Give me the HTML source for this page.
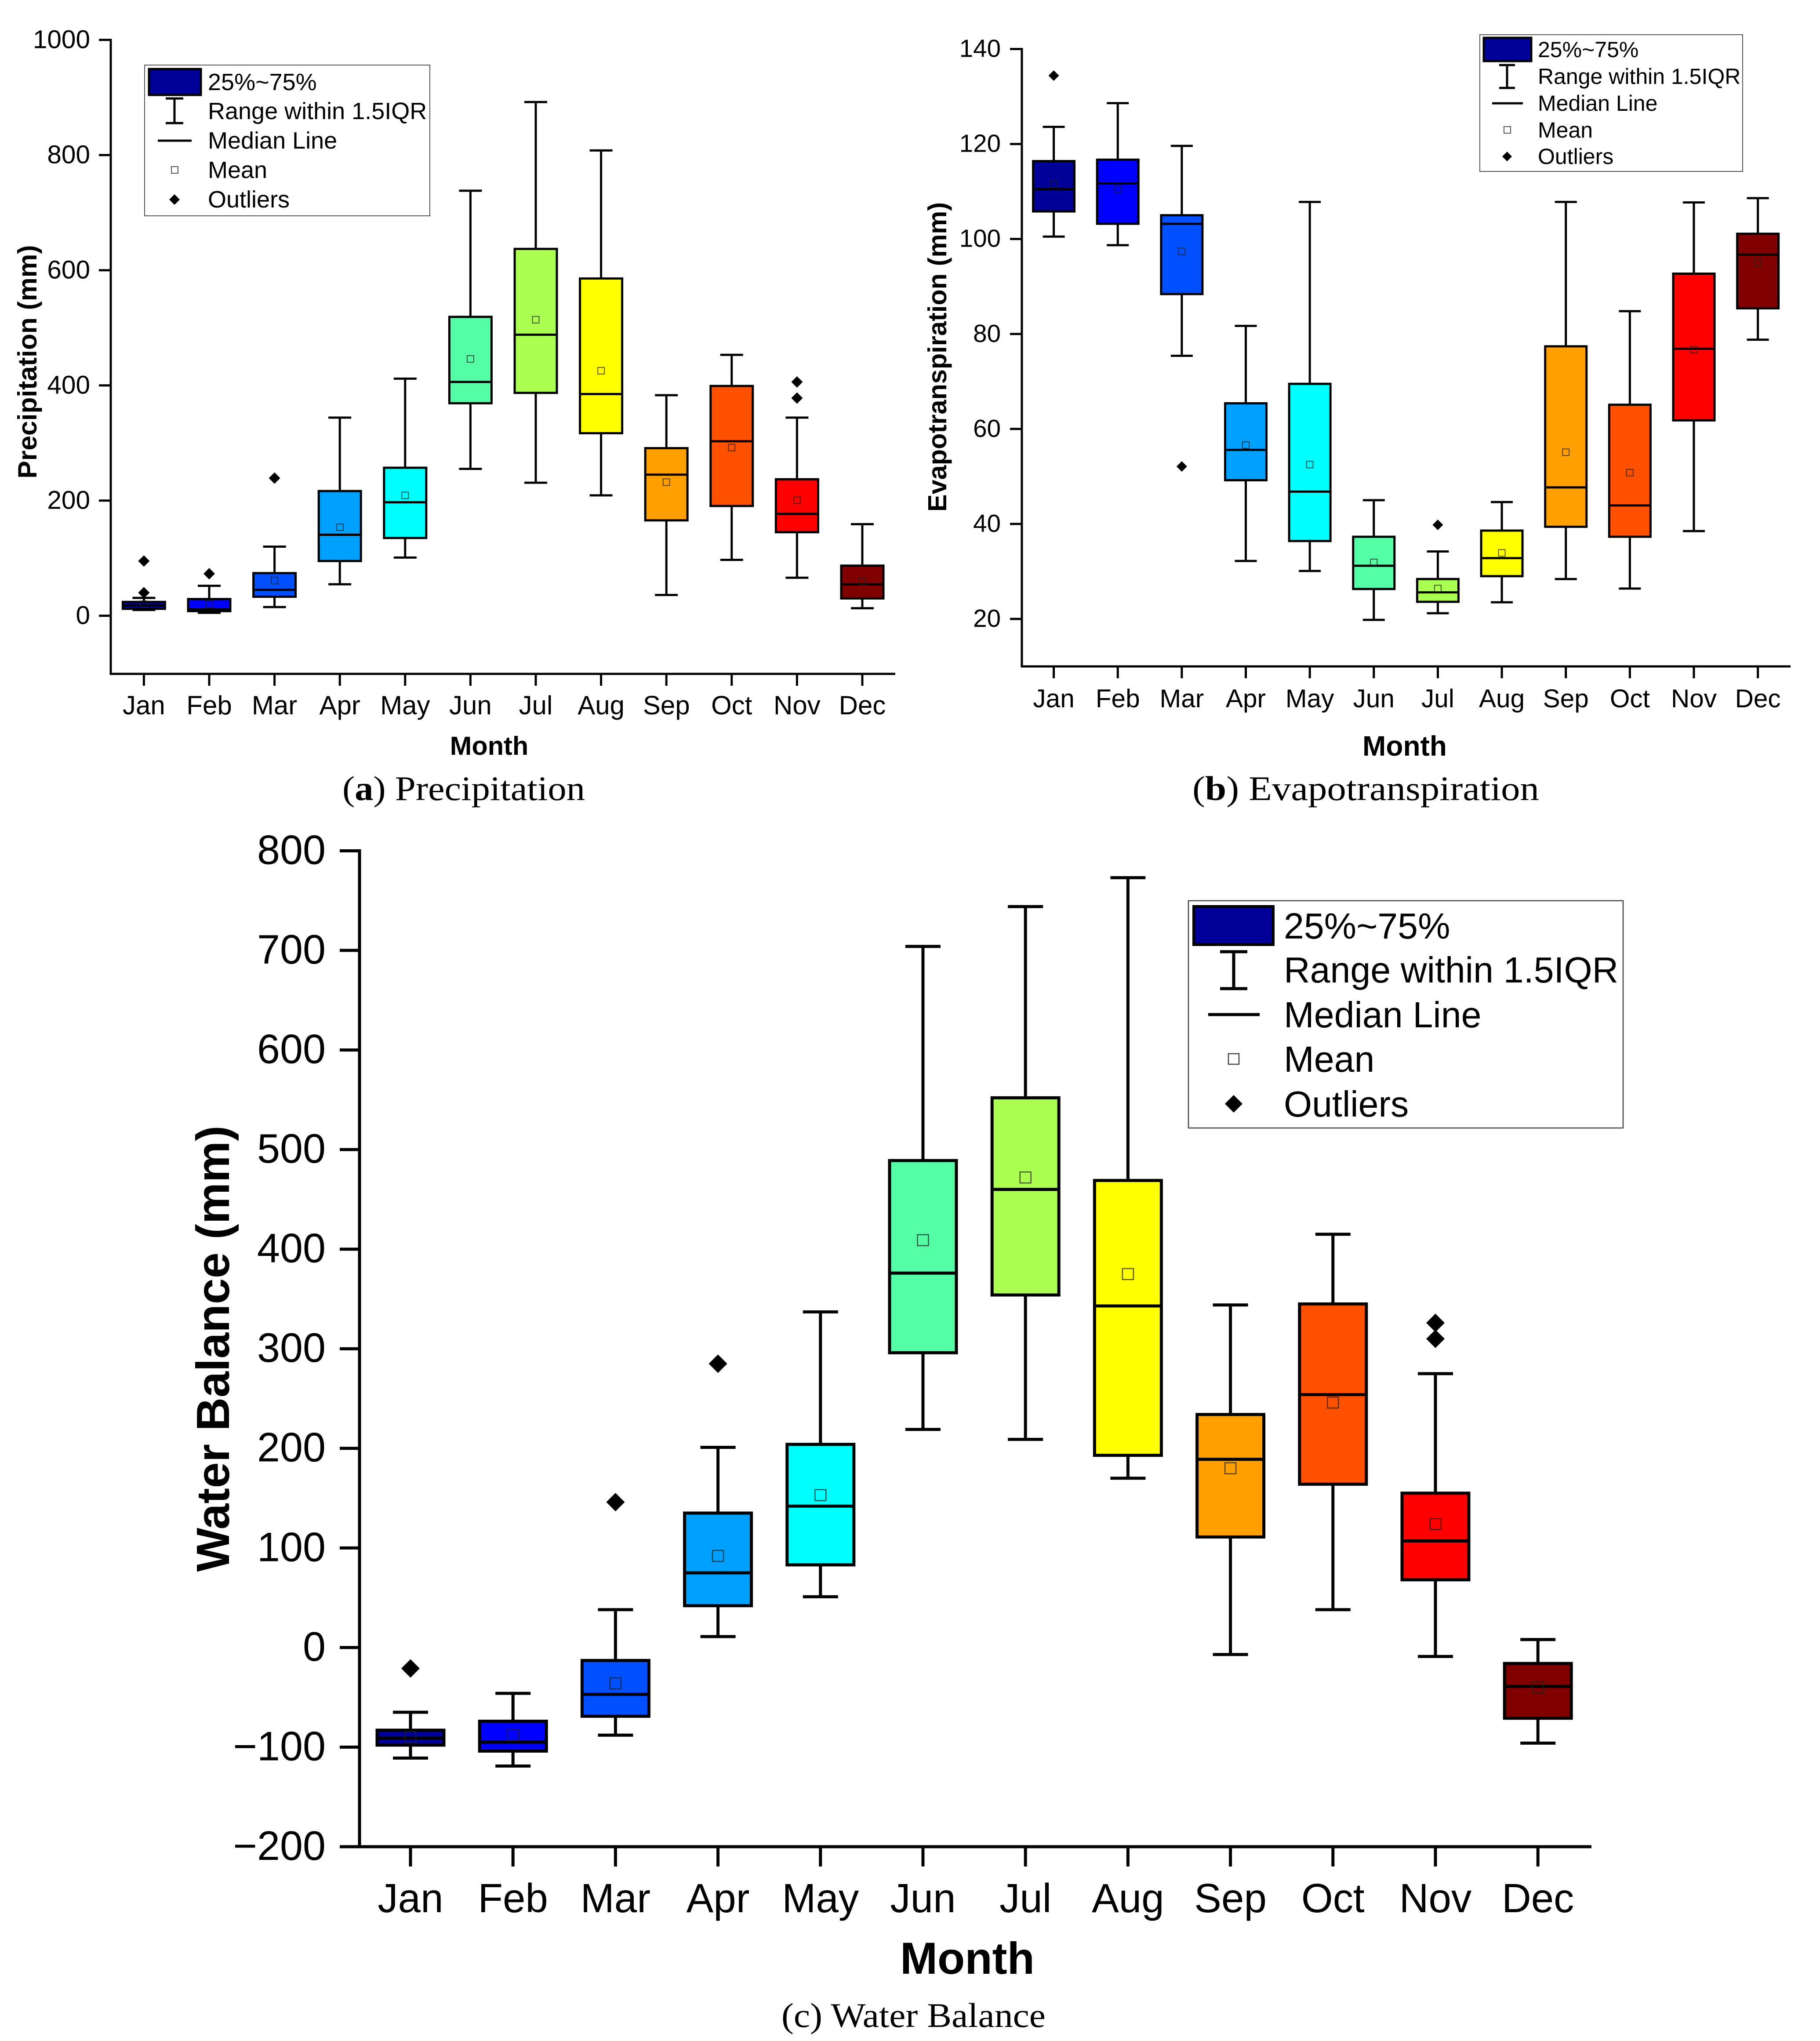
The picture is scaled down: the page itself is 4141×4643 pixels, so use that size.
<!DOCTYPE html>
<html lang="en">
<head>
<meta charset="utf-8">
<title>Monthly precipitation, evapotranspiration and water balance</title>
<style>
html,body{margin:0;padding:0;background:#fff;}
svg{display:block;}
text{font-family:"Liberation Sans",sans-serif;fill:#000;}
.cap{font-family:"Liberation Serif",serif;}
</style>
</head>
<body>
<svg id="figure" xmlns="http://www.w3.org/2000/svg" width="4141" height="4643" viewBox="0 0 4141 4643">
<rect x="0" y="0" width="4141" height="4643" fill="#fff"/>
<g id="panel-a"></g>
<g id="panel-b"></g>
<g id="panel-c"></g>

<g>
  <rect x="329" y="148" width="649" height="343" fill="#fff" stroke="#555" stroke-width="2"/>
  <rect x="339" y="157" width="118" height="59" fill="#000099" stroke="#000" stroke-width="5"/>
  <path d="M397 224V280M377 224H417M377 280H417" fill="none" stroke="#000" stroke-width="5"/>
  <path d="M359 320H436" stroke="#000" stroke-width="5"/>
  <rect x="390" y="379" width="15" height="15" fill="none" stroke="#555" stroke-width="2"/>
  <path d="M397 442L409 454L397 466L385 454Z" fill="#000"/>
  <g font-size="54">
    <text x="473" y="205">25%~75%</text>
    <text x="473" y="271">Range within 1.5IQR</text>
    <text x="473" y="338">Median Line</text>
    <text x="473" y="405">Mean</text>
    <text x="473" y="472">Outliers</text>
  </g>
</g>

<g>
  <rect x="3367" y="79" width="598" height="311" fill="#fff" stroke="#555" stroke-width="2"/>
  <rect x="3376" y="86" width="108" height="53" fill="#000099" stroke="#000" stroke-width="5"/>
  <path d="M3429 148V200M3411 148H3447M3411 200H3447" fill="none" stroke="#000" stroke-width="5"/>
  <path d="M3395 235H3465" stroke="#000" stroke-width="5"/>
  <rect x="3422" y="288" width="15" height="15" fill="none" stroke="#555" stroke-width="2"/>
  <path d="M3429 345L3440 356L3429 367L3418 356Z" fill="#000"/>
  <g font-size="50">
    <text x="3499" y="130">25%~75%</text>
    <text x="3499" y="191">Range within 1.5IQR</text>
    <text x="3499" y="252">Median Line</text>
    <text x="3499" y="313">Mean</text>
    <text x="3499" y="373">Outliers</text>
  </g>
</g>

<g>
  <rect x="2704" y="2049" width="989" height="517" fill="#fff" stroke="#444" stroke-width="2.5"/>
  <rect x="2716" y="2062" width="181" height="87" fill="#000099" stroke="#000" stroke-width="6"/>
  <path d="M2807 2165V2249M2776 2165H2838M2776 2249H2838" fill="none" stroke="#000" stroke-width="7"/>
  <path d="M2749 2308H2866" stroke="#000" stroke-width="7"/>
  <rect x="2795" y="2397" width="24" height="24" fill="none" stroke="#444" stroke-width="2.5"/>
  <path d="M2807 2491L2827 2511L2807 2531L2787 2511Z" fill="#000"/>
  <g font-size="82.5">
    <text x="2921" y="2135">25%~75%</text>
    <text x="2921" y="2235">Range within 1.5IQR</text>
    <text x="2921" y="2337">Median Line</text>
    <text x="2921" y="2438">Mean</text>
    <text x="2921" y="2540">Outliers</text>
  </g>
</g>

<text class="cap" x="779" y="1820" font-size="78" textLength="552" lengthAdjust="spacingAndGlyphs">(<tspan font-weight="bold">a</tspan>) Precipitation</text>
<text class="cap" x="2713" y="1820" font-size="78" textLength="789" lengthAdjust="spacingAndGlyphs">(<tspan font-weight="bold">b</tspan>) Evapotranspiration</text>
<text class="cap" x="1778" y="4611" font-size="78" textLength="601" lengthAdjust="spacingAndGlyphs">(c) Water Balance</text>
</svg>

<script>
const months = ['Jan','Feb','Mar','Apr','May','Jun','Jul','Aug','Sep','Oct','Nov','Dec'];
const boxColors = ['#000099','#0000ff','#0050ff','#00a0ff','#00ffff','#55ffa5','#aaff50','#ffff00','#ffa000','#ff5000','#ff0000','#800000'];

const precipMin = [10,5,15,54.6,101,255,231,209,36,97,66,13];
const precipQ1 = [12,8,33,95,135,369,387,317,165.6,190.6,145,30];
const precipMedian = [18,11,45,140.6,197,406,488,385,245,303,177,54.6];
const precipQ3 = [24,29,74,216.5,257,519,637,585.6,291,399,237,87];
const precipMax = [31,52,120,344,411.7,738,892,808,383,453,344,159];
const precipMean = [20,20,61,153.6,209,446,514,425.5,232,292,200.7,60];
const precipOutliers = [[95,40],[73],[239],[],[],[],[],[],[],[],[406,378],[]];
const precipTicks = [0,200,400,600,800,1000];

const etMin = [100.5,98.7,75.4,32.2,30.1,19.8,21.2,23.5,28.4,26.4,38.5,78.8];
const etQ1 = [105.8,103.2,88.4,49.2,36.4,26.3,23.6,29,39.4,37.3,61.8,85.4];
const etMedian = [110.5,111.7,103.2,55.6,46.8,31.2,25.6,32.8,47.7,43.9,76.9,96.7];
const etQ3 = [116.4,116.7,105,65.4,69.5,37.3,28.4,38.6,77.4,65.1,92.7,101.1];
const etMax = [123.6,128.6,119.6,81.7,107.8,45,34.2,44.6,107.8,84.8,107.7,108.6];
const etMean = [111.6,110.5,97.4,56.6,52.5,31.9,26.4,33.9,55.1,50.8,76.7,95.1];
const etOutliers = [[134.4],[],[52.1],[],[],[],[39.8],[],[],[],[],[]];
const etTicks = [20,40,60,80,100,120,140];

const wbMin = [-111,-119,-88,11,51,219,209,170,-7,38,-9,-96];
const wbQ1 = [-98,-104,-69,42,83,296,354,193,111,164,68,-71];
const wbMedian = [-91,-95,-47,75,142,376,460,343,189,254,107,-39];
const wbQ3 = [-83,-74,-13,135,204,489,552,469,234,345,155,-16];
const wbMax = [-65,-46,38,201,337,704,744,773,344,415,275,8];
const wbMean = [-90,-88,-36,92,153,409,472,375,180,246,124,-40];
const wbOutliers = [[-21],[],[146],[285],[],[],[],[],[],[],[326,310],[]];
const wbTicks = [-200,-100,0,100,200,300,400,500,600,700,800];

const NS = 'http://www.w3.org/2000/svg';
function mk(parent, tag, attrs, txt) {
  const el = document.createElementNS(NS, tag);
  for (const k in attrs) el.setAttribute(k, attrs[k]);
  if (txt !== undefined) el.textContent = txt;
  parent.appendChild(el);
  return el;
}

function drawPanel(p) {
  const root = document.getElementById(p.id);
  const x = i => p.x0 + i * p.xStep;
  const y = v => p.yBottom + (v - p.domain[0]) * (p.yTop - p.yBottom) / (p.domain[1] - p.domain[0]);

  const yAxis = mk(root, 'line', {x1:p.axisX, x2:p.axisX, y1:y(p.domain[1]) - p.sw/2, y2:p.axisY + p.sw/2, stroke:'#000', 'stroke-width':p.sw});
  
  
  const xAxis = mk(root, 'line', {x1:p.axisX, x2:p.axisEnd, y1:p.axisY, y2:p.axisY, stroke:'#000', 'stroke-width':p.sw});
  
  

  p.ticks.forEach(t => {
    const tick = mk(root, 'line', {x1:p.axisX - p.tickLen, x2:p.axisX, y1:y(t), y2:y(t), stroke:'#000', 'stroke-width':p.sw});
    
    
    const label = mk(root, 'text', {x:p.yLabelX, y:y(t) + p.tickFont * 0.32, 'font-size':p.tickFont, 'text-anchor':'end'}, String(t).replace('-', '\u2212'));
    
    
  });

  months.forEach((m, i) => {
    const cx = x(i);
    const tick = mk(root, 'line', {x1:cx, x2:cx, y1:p.axisY, y2:p.axisY + p.tickLen, stroke:'#000', 'stroke-width':p.sw});
    
    
    const label = mk(root, 'text', {x:cx, y:p.xLabelY, 'font-size':p.xFont, 'text-anchor':'middle'}, m);
    
    

    const g = mk(root, 'g', {});
    
    

    const whisker = mk(g, 'line', {x1:cx, x2:cx, y1:y(p.max[i]), y2:y(p.min[i]), stroke:'#000', 'stroke-width':p.sw});
    
    
    const capTop = mk(g, 'line', {x1:cx - p.capW/2, x2:cx + p.capW/2, y1:y(p.max[i]), y2:y(p.max[i]), stroke:'#000', 'stroke-width':p.sw});
    
    
    const capBottom = mk(g, 'line', {x1:cx - p.capW/2, x2:cx + p.capW/2, y1:y(p.min[i]), y2:y(p.min[i]), stroke:'#000', 'stroke-width':p.sw});
    
    
    const box = mk(g, 'rect', {x:cx - p.boxW/2, y:y(p.q3[i]), width:p.boxW, height:y(p.q1[i]) - y(p.q3[i]), fill:boxColors[i], stroke:'#000', 'stroke-width':p.sw});
    
    
    const median = mk(g, 'line', {x1:cx - p.boxW/2, x2:cx + p.boxW/2, y1:y(p.median[i]), y2:y(p.median[i]), stroke:'#000', 'stroke-width':p.sw});
    
    
    const mean = mk(g, 'rect', {x:cx - p.meanS/2, y:y(p.mean[i]) - p.meanS/2, width:p.meanS, height:p.meanS, fill:'none', stroke:'#222', 'stroke-opacity':0.75, 'stroke-width':p.meanSw});
    
    
    p.outliers[i].forEach(v => {
      const d = p.diamond, oy = y(v);
      const o = mk(g, 'path', {d:'M' + cx + ' ' + (oy - d) + 'L' + (cx + d) + ' ' + oy + 'L' + cx + ' ' + (oy + d) + 'L' + (cx - d) + ' ' + oy + 'Z', fill:'#000'});
      
      
    });
  });

  const xt = mk(root, 'text', {x:p.xTitle[0], y:p.xTitle[1], 'font-size':p.xTitle[2], 'font-weight':'bold', 'text-anchor':'middle'}, 'Month');
  
  
  const yt = mk(root, 'text', {transform:'translate(' + p.yTitle[0] + ' ' + p.yTitle[1] + ') rotate(-90)', 'font-size':p.yTitle[2], 'font-weight':'bold', 'text-anchor':'middle'}, p.yText);
  
  
}

drawPanel({id:'panel-a', domain:[-100,1000], yBottom:1531.7, yTop:90.7, axisX:252, axisY:1533, axisEnd:2037,
  x0:327.4, xStep:148.6, boxW:96, capW:52, sw:5, tickLen:27, meanS:15, meanSw:2, diamond:13,
  yLabelX:205, tickFont:58.5, xFont:60, xLabelY:1625, xTitle:[1113,1717,59.5], yTitle:[83,823,60.5], yText:'Precipitation (mm)',
  min:precipMin, q1:precipQ1, median:precipMedian, q3:precipQ3, max:precipMax, mean:precipMean, outliers:precipOutliers, ticks:precipTicks});

drawPanel({id:'panel-b', domain:[10,140], yBottom:1516, yTop:111.5, axisX:2325, axisY:1516, axisEnd:4074,
  x0:2397.6, xStep:145.64, boxW:94, capW:50, sw:5, tickLen:27, meanS:15, meanSw:2, diamond:12,
  yLabelX:2277, tickFont:56.5, xFont:58.5, xLabelY:1609, xTitle:[3196,1719,64], yTitle:[2153,812,59.5], yText:'Evapotranspiration (mm)',
  min:etMin, q1:etQ1, median:etMedian, q3:etQ3, max:etMax, mean:etMean, outliers:etOutliers, ticks:etTicks});

drawPanel({id:'panel-c', domain:[-200,800], yBottom:4201, yTop:1935.5, axisX:818, axisY:4201, axisEnd:3621,
  x0:934, xStep:233.2, boxW:152, capW:80, sw:7, tickLen:45, meanS:25, meanSw:2.5, diamond:21,
  yLabelX:741, tickFont:93.5, xFont:92.5, xLabelY:4350, xTitle:[2201,4490,102], yTitle:[521,3068,106], yText:'Water Balance (mm)',
  min:wbMin, q1:wbQ1, median:wbMedian, q3:wbQ3, max:wbMax, mean:wbMean, outliers:wbOutliers, ticks:wbTicks});
</script>
</body>
</html>
